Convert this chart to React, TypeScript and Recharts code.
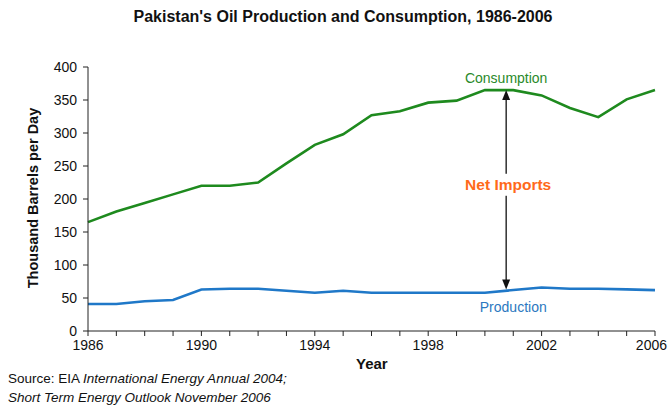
import { LineChart, Line, XAxis, YAxis, ReferenceLine, ReferenceDot } from "recharts";

const years = [1986, 1987, 1988, 1989, 1990, 1991, 1992, 1993, 1994, 1995, 1996, 1997, 1998, 1999, 2000, 2001, 2002, 2003, 2004, 2005, 2006];
const consumption = [165, 181, 194, 207, 220, 220, 225, 254, 282, 298, 327, 333, 346, 349, 365, 365, 357, 338, 324, 351, 365];
const production = [41, 41, 45, 47, 63, 64, 64, 61, 58, 61, 58, 58, 58, 58, 58, 62, 66, 64, 64, 63, 62];
const yTicks = [0, 50, 100, 150, 200, 250, 300, 350, 400];
const labelYears = [1986, 1990, 1994, 1998, 2002, 2006];

// annotation anchors (data coords)
const arrowYear = 2000.75;
const arrowTop = 365;
const arrowBottom = 63;
const consLabel = { x: 2000.75, y: 384 };
const prodLabel = { x: 2001, y: 36 };

const data = years.map((y, i) => ({ year: y, consumption: consumption[i], production: production[i] }));

const FONT = "'Liberation Sans', Arial, sans-serif";

const XTick = (props: any) => {
  const { x, y, payload } = props;
  if (!labelYears.includes(payload.value)) return null;
  const last = payload.value === 2006;
  return (
    <text
      x={last ? 667 : x}
      y={y}
      dy={12}
      textAnchor={last ? "end" : "middle"}
      fontSize={14}
      fontFamily={FONT}
      fill="#111"
    >
      {payload.value}
    </text>
  );
};

const ArrowShape = (props: any) => {
  const { x1, y1, y2 } = props;
  const x = x1;
  const top = Math.min(y1, y2);
  const bot = Math.max(y1, y2);
  const midY = top + (bot - top) * 0.475;
  return (
    <g>
      <line x1={x} y1={top + 6} x2={x} y2={bot - 6} stroke="#111" strokeWidth={1.3} />
      <polygon points={`${x},${top} ${x - 4},${top + 10} ${x + 4},${top + 10}`} fill="#111" />
      <polygon points={`${x},${bot} ${x - 4},${bot - 10} ${x + 4},${bot - 10}`} fill="#111" />
      <rect x={x - 48} y={midY - 11} width={96} height={22} fill="#fff" />
      <text x={x + 2} y={midY + 5} textAnchor="middle" fontSize={15.5} fontWeight="bold" fontFamily={FONT} fill="#ff6a1a">
        Net Imports
      </text>
    </g>
  );
};

export default function App() {
  return (
    <div style={{ position: "absolute", left: 0, top: 0, width: 668, height: 409, background: "#fff", fontFamily: FONT }}>
      <div style={{ position: "absolute", left: 0, top: 8, width: 686, textAlign: "center", fontSize: 16, fontWeight: "bold", color: "#111" }}>
        Pakistan's Oil Production and Consumption, 1986-2006
      </div>
      <LineChart width={668} height={409} data={data} margin={{ top: 67, right: 13, left: 0, bottom: 0 }}>
        <XAxis
          dataKey="year"
          type="number"
          domain={[1986, 2006]}
          ticks={years}
          interval={0}
          tick={<XTick />}
          tickSize={5}
          height={78}
          stroke="#222"
        />
        <YAxis
          type="number"
          domain={[0, 400]}
          ticks={yTicks}
          width={88}
          tickSize={5}
          tickMargin={6}
          stroke="#222"
          tick={{ fontSize: 14, fontFamily: FONT, fill: "#111" }}
        />
        <Line dataKey="consumption" type="linear" stroke="#1e8a1e" strokeWidth={2.6} dot={false} isAnimationActive={false} />
        <Line dataKey="production" type="linear" stroke="#1f78c8" strokeWidth={2.6} dot={false} isAnimationActive={false} />
        <ReferenceLine
          segment={[{ x: arrowYear, y: arrowTop }, { x: arrowYear, y: arrowBottom }]}
          shape={<ArrowShape />}
        />
        <ReferenceDot
          x={consLabel.x}
          y={consLabel.y}
          r={0}
          stroke="none"
          fill="none"
          label={{ value: "Consumption", position: "center", fill: "#2a8a2a", fontSize: 14, fontFamily: FONT }}
        />
        <ReferenceDot
          x={prodLabel.x}
          y={prodLabel.y}
          r={0}
          stroke="none"
          fill="none"
          label={{ value: "Production", position: "center", fill: "#2b78c0", fontSize: 14, fontFamily: FONT }}
        />
      </LineChart>
      <div
        style={{
          position: "absolute",
          left: 33,
          top: 198,
          transform: "translate(-50%, -50%) rotate(-90deg)",
          whiteSpace: "nowrap",
          fontSize: 14.5,
          fontWeight: "bold",
          color: "#111",
        }}
      >
        Thousand Barrels per Day
      </div>
      <div style={{ position: "absolute", left: 356, top: 355, fontSize: 15, fontWeight: "bold", color: "#111" }}>Year</div>
      <div style={{ position: "absolute", left: 8, top: 369, fontSize: 13.5, color: "#111", lineHeight: "19px" }}>
        <div>
          Source: EIA <i>International Energy Annual 2004;</i>
        </div>
        <div>
          <i>Short Term Energy Outlook November 2006</i>
        </div>
      </div>
    </div>
  );
}
